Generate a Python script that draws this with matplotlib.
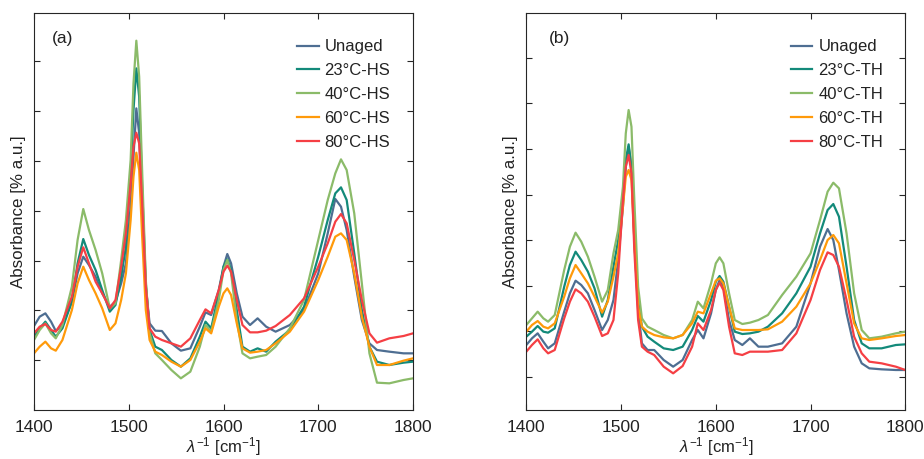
import matplotlib
matplotlib.use("Agg")
import matplotlib.pyplot as plt
import numpy as np

plt.rcParams['font.family'] = ['Liberation Sans', 'DejaVu Sans']
plt.rcParams['mathtext.fontset'] = 'custom'
plt.rcParams['mathtext.rm'] = 'Liberation Sans'
plt.rcParams['mathtext.it'] = 'Liberation Sans:italic'

# wavenumber grid (cm^-1)
wavenumber = [1400, 1406, 1412, 1418, 1423, 1430, 1440, 1446, 1452, 1458,
              1465, 1472, 1480, 1486, 1492, 1497, 1502, 1505, 1508, 1511,
              1514, 1518, 1522, 1528, 1535, 1545, 1555, 1565, 1575, 1581,
              1587, 1595, 1600, 1604, 1608, 1614, 1620, 1628, 1636, 1645,
              1655, 1670, 1685, 1700, 1710, 1718, 1724, 1730, 1738, 1746,
              1754, 1762, 1775, 1790, 1800]

# Panel (a): absorbance (arbitrary units)
hs_labels = ["Unaged", "23°C-HS", "40°C-HS", "60°C-HS", "80°C-HS"]
hs_unaged = [252, 280, 290, 265, 237, 255, 325, 410, 460, 435,
             400, 350, 310, 325, 380, 440, 610, 760, 905, 830,
             610, 370, 260, 238, 237, 200, 178, 185, 250, 293,
             285, 360, 430, 468, 440, 350, 280, 255, 275, 250,
             235, 255, 300, 410, 530, 633, 610, 540, 400, 270,
             200, 180, 175, 170, 170]
hs_23 = [220, 245, 265, 240, 220, 245, 325, 440, 513, 465,
         420, 360, 295, 315, 400, 490, 710, 900, 1025, 940,
         680, 380, 240, 190, 180, 150, 130, 155, 220, 265,
         245, 350, 430, 452, 420, 300, 190, 175, 185, 175,
         205, 240, 310, 460, 570, 650, 668, 630, 470, 300,
         190, 145, 135, 142, 145]
hs_40 = [210, 240, 260, 230, 215, 255, 370, 510, 603, 540,
         480, 410, 305, 320, 450, 570, 750, 980, 1108, 1000,
         730, 390, 230, 170, 150, 120, 95, 115, 190, 255,
         235, 330, 420, 450, 410, 270, 170, 155, 160, 165,
         190, 245, 330, 510, 630, 710, 752, 720, 590, 380,
         170, 82, 80, 90, 95]
hs_60 = [170, 190, 205, 185, 178, 210, 300, 380, 430, 390,
         350, 305, 240, 260, 330, 410, 570, 700, 772, 720,
         530, 300, 210, 175, 165, 145, 130, 150, 205, 245,
         230, 310, 350, 365, 345, 260, 185, 172, 175, 180,
         200, 235, 295, 390, 460, 520, 530, 510, 410, 280,
         190, 135, 135, 148, 155]
hs_80 = [230, 250, 258, 240, 235, 265, 340, 430, 488, 440,
         385, 350, 305, 330, 430, 530, 680, 790, 832, 800,
         630, 370, 245, 220, 210, 200, 190, 215, 270, 302,
         290, 360, 415, 433, 415, 330, 255, 233, 233, 238,
         252, 285, 335, 430, 500, 565, 588, 560, 450, 330,
         230, 202, 215, 222, 230]

# Panel (b)
th_labels = ["Unaged", "23°C-TH", "40°C-TH", "60°C-TH", "80°C-TH"]
th_unaged = [95, 115, 130, 105, 85, 100, 195, 250, 288, 275,
             250, 200, 140, 170, 230, 350, 510, 630, 690, 630,
             410, 200, 100, 80, 80, 50, 30, 50, 110, 140,
             115, 190, 260, 290, 270, 170, 110, 95, 115, 90,
             90, 100, 150, 280, 390, 443, 410, 320, 190, 90,
             40, 25, 22, 20, 20]
th_23 = [120, 135, 152, 135, 132, 145, 270, 335, 375, 350,
         315, 265, 180, 230, 330, 410, 530, 650, 697, 630,
         430, 230, 150, 120, 105, 85, 80, 90, 140, 182,
         165, 230, 285, 302, 285, 210, 135, 128, 130, 135,
         150, 190, 250, 330, 430, 500, 518, 480, 330, 170,
         100, 85, 85, 95, 97]
th_40 = [155, 175, 195, 175, 165, 185, 320, 390, 432, 405,
         360, 300, 225, 260, 370, 440, 570, 730, 800, 750,
         530, 270, 175, 150, 140, 125, 115, 125, 170, 225,
         205, 280, 340, 358, 340, 250, 170, 158, 162, 170,
         185, 245, 300, 370, 470, 555, 582, 565, 430, 250,
         140, 115, 120, 130, 135]
th_60 = [135, 155, 167, 150, 145, 160, 240, 295, 335, 310,
         280, 240, 192, 225, 300, 370, 510, 600, 620, 590,
         410, 210, 150, 135, 125, 118, 115, 125, 160, 195,
         190, 250, 288, 295, 280, 210, 145, 140, 140, 140,
         142, 165, 210, 280, 350, 410, 425, 400, 280, 160,
         115, 110, 115, 122, 125]
th_80 = [75, 95, 112, 85, 70, 80, 175, 225, 262, 250,
         225, 180, 122, 130, 170, 310, 530, 630, 665, 610,
         380, 170, 90, 75, 65, 30, 10, 32, 90, 160,
         140, 200, 260, 282, 260, 150, 70, 65, 75, 75,
         75, 80, 130, 230, 320, 373, 365, 330, 230, 120,
         70, 45, 40, 30, 20]

colors = ["#4E6E92", "#138A7A", "#8BBB69", "#FF9A0A", "#F53F44"]

fig = plt.figure(figsize=(9.24, 4.59), dpi=100)
axa = fig.add_axes([34/924, 1 - 410/459, 379/924, 397.3/459])
axb = fig.add_axes([526.3/924, 1 - 410/459, 379/924, 397.3/459])

panels = [
    (axa, [hs_unaged, hs_23, hs_40, hs_60, hs_80], hs_labels, "(a)", (0, 1192), 149.5, 1, 0.047, 0.966),
    (axb, [th_unaged, th_23, th_40, th_60, th_80], th_labels, "(b)", (-100, 1092), 136.6, 0, 0.06, 0.968),
]

for ax, series, labels, tag, ylim, step, k0, tagx, legx in panels:
    for vals, lab, c in zip(series, labels, colors):
        ax.plot(wavenumber, vals, color=c, lw=1.6, label=lab)
    ax.set_xlim(1400, 1800)
    ax.set_ylim(*ylim)
    ax.set_xticks([1400, 1500, 1600, 1700, 1800])
    ax.set_yticks([step * k for k in range(k0, 8)])
    ax.set_yticklabels([])
    ax.tick_params(direction='in', top=True, right=True, length=4, width=0.8,
                   colors='#262626', labelsize=12.5, pad=7)
    ax.tick_params(axis='x', labelcolor='#222222')
    for s in ax.spines.values():
        s.set_color('#262626')
        s.set_linewidth(0.8)
    ax.set_ylabel("Absorbance [% a.u.]", fontsize=12.2, color='#222222')
    ax.yaxis.set_label_coords(-0.021, 0.5)
    ax.set_xlabel(r"$\mathit{\lambda}^{-1}$ [cm$^{-1}$]", fontsize=12, color='#222222', labelpad=0.5)
    ax.text(tagx, 0.936, tag, transform=ax.transAxes,
            fontsize=12.5, va='center', ha='left', color='#222222')
    leg = ax.legend(loc='upper right', bbox_to_anchor=(legx, 0.958),
                    frameon=False, fontsize=12, handlelength=1.3, handletextpad=0.35,
                    labelspacing=0.53, borderaxespad=0.2)
    for t in leg.get_texts():
        t.set_color('#222222')

fig.savefig("out.png", dpi=100)
